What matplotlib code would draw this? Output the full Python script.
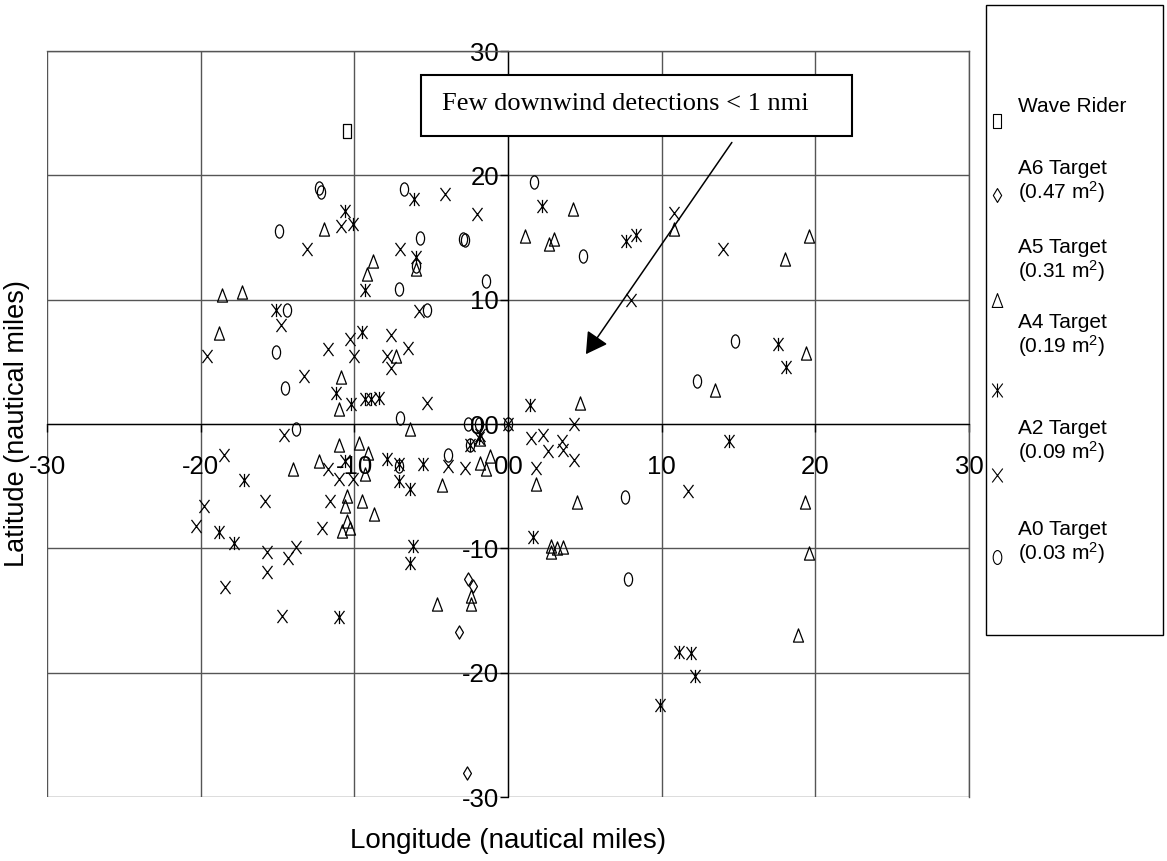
import matplotlib.pyplot as plt
from matplotlib.path import Path
from matplotlib.transforms import Affine2D
from matplotlib.patches import Rectangle
from matplotlib.lines import Line2D

plt.rcParams['font.family'] = 'Liberation Sans'
plt.rcParams['mathtext.fontset'] = 'custom'
plt.rcParams['mathtext.rm'] = 'Liberation Sans'
plt.rcParams['mathtext.it'] = 'Liberation Sans:italic'

# detections (nautical miles east / north of the wave rider origin)
wave_x = [-10.5]
wave_y = [23.6]

a6_x = [-2.6, -2.3, -3.2, -2.7]
a6_y = [-12.5, -13.0, -16.7, -28.1]

a5_x = [-12.0, -8.8, -9.2, -18.6, -17.3, -6.0, -18.8, -7.3, -10.9, -11.0, -11.0, -9.7, -6.4,
        4.2, 1.1, 2.7, 3.0, 10.8, 18.0, 19.6, 19.4, 13.5, 4.7, 4.5, 19.3, 2.8, 3.2, 3.6, 2.8,
        19.6, 18.9, -2.4, -2.4, -4.6, -14.0, -12.3, -10.5, -10.6, -9.5, -8.7, -10.5, -10.8,
        -10.3, -9.1, -9.3, -4.3, -1.2, -1.4, -1.8, -1.8, 1.8]
a5_y = [15.7, 13.1, 12.1, 10.4, 10.6, 12.5, 7.3, 5.5, 3.8, 1.2, -1.7, -1.5, -0.4,
        17.3, 15.1, 14.5, 14.9, 15.7, 13.3, 15.1, 5.7, 2.7, 1.7, -6.3, -6.3, -10.3, -10.0, -9.9, -9.8,
        -10.4, -17.0, -13.8, -14.5, -14.5, -3.6, -3.0, -5.8, -6.6, -6.2, -7.2, -7.8, -8.6,
        -8.4, -2.3, -4.0, -4.9, -2.6, -3.6, -3.1, -1.2, -4.8]

a4_x = [-10.6, -10.1, -9.3, -15.1, -6.1, -6.0, -9.5, -11.2, -10.2, -9.3, -8.9, -8.4, 2.2, 7.7,
        8.3, 17.6, 18.1, 1.4, 14.4, 1.6, 11.1, 11.9, 12.2, 9.9, -17.2, -18.8, -17.8, -11.0,
        -6.2, -6.4, -10.6, -7.9, -7.1, -7.1, -6.4, -5.5, -2.5, -1.9, -1.8]
a4_y = [17.1, 16.1, 10.8, 9.2, 18.1, 13.4, 7.4, 2.5, 1.6, 2.0, 2.0, 2.1, 17.5, 14.7,
        15.2, 6.4, 4.6, 1.5, -1.4, -9.1, -18.3, -18.4, -20.3, -22.6, -4.5, -8.7, -9.6, -15.5,
        -9.8, -11.2, -3.0, -2.8, -3.2, -4.6, -5.2, -3.2, -1.7, -1.1, -0.9]

a2_x = [-10.9, -13.1, -4.1, -2.0, -7.0, -5.8, -14.8, -19.6, -11.7, -10.3, -10.0, -7.6, -7.9,
        -7.6, -13.3, -6.5, -5.3, -14.6, 10.8, 14.0, 8.0, 4.3, 1.5, 2.6, 3.6, 4.3, 1.8, 11.7,
        -18.5, -19.8, -20.3, -15.7, -15.7, -14.3, -13.8, -18.4, -14.7, -15.8, -11.7, -11.0,
        -10.1, -11.6, -12.1, -3.9, -2.8, 0.0, 2.3, 3.5]
a2_y = [15.9, 14.1, 18.5, 16.9, 14.1, 9.1, 8.0, 5.5, 6.0, 6.8, 5.5, 7.2, 5.5,
        4.5, 3.9, 6.1, 1.7, -0.9, 17.0, 14.1, 10.0, 0.0, -1.1, -2.2, -2.1, -2.9, -3.5, -5.4,
        -2.5, -6.6, -8.2, -10.3, -11.9, -10.8, -9.9, -13.1, -15.4, -6.2, -3.6, -4.4,
        -4.4, -6.2, -8.4, -3.4, -3.5, 0.0, -0.9, -1.4]

a0_x = [-12.3, -12.2, -14.9, -6.8, -5.7, -2.9, -2.8, -6.0, -7.1, -1.4, -5.3, -14.4, -15.1,
        -14.5, -7.0, -13.8, 1.7, 4.9, 14.8, 12.3, 7.6, 7.8, -2.6, -1.9, 0.0, -2.5, -3.9, -7.1]
a0_y = [19.0, 18.7, 15.5, 18.9, 15.0, 14.9, 14.8, 12.7, 10.9, 11.5, 9.2, 9.2, 5.8,
        2.9, 0.5, -0.4, 19.5, 13.5, 6.7, 3.5, -5.9, -12.5, 0.0, 0.0, 0.0, -1.7, -2.5, -3.4]

tick_values = [-30, -20, -10, 0, 10, 20, 30]
tick_labels = ['-30', '-20', '-10', '00', '10', '20', '30']

legend_labels = ['Wave Rider', 'A6 Target\n(0.47 m$^2$)', 'A5 Target\n(0.31 m$^2$)',
                 'A4 Target\n(0.19 m$^2$)', 'A2 Target\n(0.09 m$^2$)', 'A0 Target\n(0.03 m$^2$)']


# glyph-like markers
def seg_path(segs):
    verts, codes = [], []
    for p0, p1 in segs:
        verts += [p0, p1]
        codes += [Path.MOVETO, Path.LINETO]
    return Path(verts, codes)


m_x = seg_path([((-0.38, -0.5), (0.38, 0.5)), ((-0.38, 0.5), (0.38, -0.5))])
m_zh = seg_path([((-0.38, -0.5), (0.38, 0.5)), ((-0.38, 0.5), (0.38, -0.5)),
                 ((0, -0.5), (0, 0.5))])
m_o = Affine2D().scale(0.31, 0.5).transform_path(Path.unit_circle())
m_tri = Path([(0, 0.5), (-0.38, -0.5), (0.38, -0.5), (0, 0.5)], closed=True)
m_dia = Path([(0, 0.5), (0.3, 0), (0, -0.5), (-0.3, 0), (0, 0.5)], closed=True)
m_sq = Path([(-0.3, -0.5), (0.3, -0.5), (0.3, 0.5), (-0.3, 0.5), (-0.3, -0.5)], closed=True)

series = [(wave_x, wave_y, m_sq), (a6_x, a6_y, m_dia), (a5_x, a5_y, m_tri),
          (a4_x, a4_y, m_zh), (a2_x, a2_y, m_x), (a0_x, a0_y, m_o)]

fig = plt.figure(figsize=(11.67, 8.61), dpi=100)
ax = fig.add_axes([0.0403, 0.0743, 0.790, 0.8664])

for xs, ys, mk in series:
    ax.plot(xs, ys, linestyle='none', marker=mk, ms=9.5, mfc='none', mec='black',
            mew=0.9, zorder=3)

ax.set_xlim(-30, 30)
ax.set_ylim(-30, 30)
ax.set_xticks(tick_values)
ax.set_yticks(tick_values)
ax.set_xticklabels(tick_labels)
ax.set_yticklabels(tick_labels)
ax.grid(True, color='#555555', linewidth=1.0)

ax.spines['left'].set_position('zero')
ax.spines['bottom'].set_position('zero')
for s in ['left', 'bottom']:
    ax.spines[s].set_linewidth(0.9)
    ax.spines[s].set_zorder(2.5)
for s in ['top', 'right']:
    ax.spines[s].set_color('#555555')
    ax.spines[s].set_linewidth(1.0)

ax.tick_params(axis='x', direction='out', length=6, width=1, pad=16, labelsize=18.5)
ax.tick_params(axis='y', direction='out', length=6, width=1, pad=0.5, labelsize=18.5)

ax.set_xlabel('Longitude (nautical miles)', fontsize=20)
ax.set_ylabel('Latitude (nautical miles)', fontsize=19.5)
ax.xaxis.set_label_coords(0.5, -0.042)
ax.yaxis.set_label_coords(-0.019, 0.5)

# annotation box and arrow
ax.add_patch(Rectangle((-5.66, 23.13), 28.04, 4.98, facecolor='white', edgecolor='black',
                       linewidth=1.5, zorder=5))
ax.text(-4.3, 25.75, 'Few downwind detections < 1 nmi', family='Liberation Serif',
        fontsize=19, va='center', ha='left', zorder=6)
ax.annotate('', xy=(5.07, 5.62), xytext=(14.57, 22.65),
            arrowprops=dict(arrowstyle='-|>,head_length=1.3,head_width=0.75',
                            mutation_scale=10, lw=1.1, color='black',
                            shrinkA=0, shrinkB=0), zorder=6)

# legend box drawn by hand to keep the original's uneven spacing
W, H = 1167.0, 861.0
fig.add_artist(Rectangle((986 / W, 1 - 635 / H), 177 / W, 630 / H, transform=fig.transFigure,
                         facecolor='white', edgecolor='black', linewidth=1.0))
text_y = [106, 182, 261, 336, 442, 543]
mark_y = [121, 195, 300, 390, 475, 557]
for lab, ty, my, (_, _, mk) in zip(legend_labels, text_y, mark_y, series):
    fig.text(1018 / W, 1 - ty / H, lab, fontsize=15, va='center', ha='left', linespacing=1.05)
    fig.add_artist(Line2D([997 / W], [1 - my / H], transform=fig.transFigure, marker=mk,
                          ms=10, mfc='none', mec='black', mew=0.8, linestyle='none'))

fig.savefig('out.png', dpi=100)
